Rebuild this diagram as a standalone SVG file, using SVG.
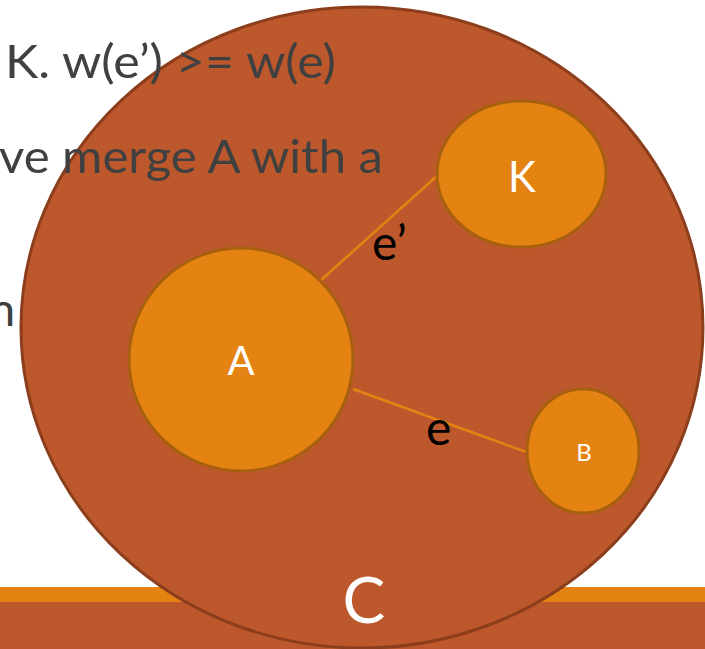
<svg xmlns="http://www.w3.org/2000/svg" width="705" height="649" viewBox="0 0 705 649">
  <style>
    .bg-text { font-family: Lato, "Open Sans", "Liberation Sans", sans-serif; font-size: 47px; fill: #404040; }
    .node { fill: #E48312; stroke: #A8600F; stroke-width: 3; }
    .node-label { font-family: Lato, "Open Sans", "Liberation Sans", sans-serif; fill: #FFFFFF; text-anchor: middle; }
    .edge { stroke: #E48312; stroke-width: 2.5; fill: none; }
    .edge-label { font-family: Lato, "Open Sans", "Liberation Sans", sans-serif; font-size: 48px; fill: #000000; }
  </style>

  <rect x="0" y="0" width="705" height="649" fill="#FFFFFF"/>

  <!-- footer bands -->
  <rect x="0" y="587" width="705" height="15" fill="#E48312"/>
  <rect x="0" y="602" width="705" height="47" fill="#BD582C"/>

  <!-- outer component C -->
  <g id="node-C">
    <ellipse cx="362" cy="327.5" rx="341" ry="320.5" fill="#BD582C" stroke="#8C3E1C" stroke-width="3"/>
    <text class="node-label" x="364" y="623" font-size="64">C</text>
  </g>

  <!-- slide body text -->
  <g id="body-text">
    <text class="bg-text" x="5" y="78" textLength="331" lengthAdjust="spacingAndGlyphs">K. w(e’) &gt;= w(e)</text>
    <text class="bg-text" x="-1" y="173" textLength="384" lengthAdjust="spacingAndGlyphs">ve merge A with a</text>
    <text class="bg-text" x="-11" y="326">n</text>
  </g>

  <!-- connectors -->
  <g id="edges">
    <line class="edge" x1="320" y1="281" x2="438" y2="175"/>
    <line class="edge" x1="353" y1="389" x2="529" y2="453"/>
    <text class="edge-label" x="372" y="260">e’</text>
    <text class="edge-label" x="426" y="445">e</text>
  </g>

  <g id="node-A">
    <ellipse class="node" cx="241" cy="359.5" rx="112" ry="111.5"/>
    <text class="node-label" x="241" y="375" font-size="40">A</text>
  </g>

  <g id="node-K">
    <ellipse class="node" cx="521.5" cy="174" rx="84.5" ry="73"/>
    <text class="node-label" x="522" y="192" font-size="42">K</text>
  </g>

  <g id="node-B">
    <ellipse class="node" cx="583" cy="451" rx="56" ry="62"/>
    <text class="node-label" x="584" y="461" font-size="24">B</text>
  </g>
</svg>
